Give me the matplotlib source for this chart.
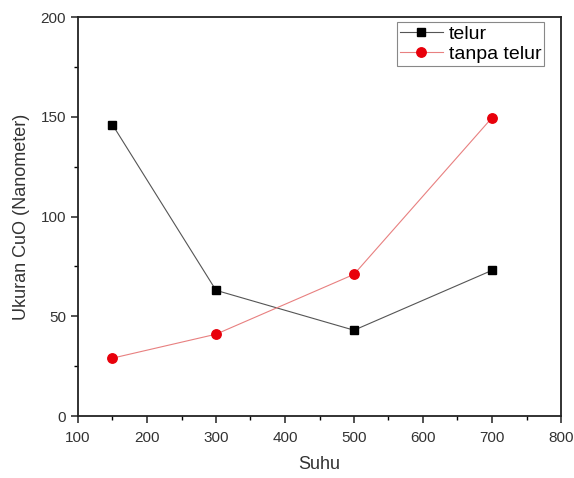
import matplotlib
matplotlib.use('Agg')
import matplotlib.pyplot as plt
from matplotlib.ticker import MultipleLocator

plt.rcParams['font.family'] = ['Liberation Sans', 'DejaVu Sans']

suhu = [150, 300, 500, 700]
telur = [146, 63, 43, 73]
tanpa_telur = [29, 41, 71, 149.5]

fig = plt.figure(figsize=(5.74, 4.78), dpi=100)
ax = fig.add_axes([78 / 574, 62 / 478, 483 / 574, 399 / 478])

ax.plot(suhu, telur, color='#555555', linewidth=0.8, marker='s', markersize=6,
        markerfacecolor='black', markeredgecolor='black', label='telur')
ax.plot(suhu, tanpa_telur, color='#e88080', linewidth=0.8, marker='o', markersize=6.8,
        markerfacecolor='#e8000b', markeredgecolor='#e8000b', label='tanpa telur')

ax.set_xlim(100, 800)
ax.set_ylim(0, 200)
ax.xaxis.set_major_locator(MultipleLocator(100))
ax.xaxis.set_minor_locator(MultipleLocator(50))
ax.yaxis.set_major_locator(MultipleLocator(50))
ax.yaxis.set_minor_locator(MultipleLocator(25))
ax.tick_params(which='major', direction='out', length=5, width=1.2, labelsize=11, colors='#333333')
ax.tick_params(axis='x', which='major', pad=6)
ax.tick_params(which='minor', direction='out', length=3, width=1.0)
for s in ax.spines.values():
    s.set_linewidth(1.3)
    s.set_color('#222222')

ax.set_xlabel('Suhu', fontsize=13, color='#333333', labelpad=8)
ax.set_ylabel('Ukuran CuO (Nanometer)', fontsize=13, color='#333333', labelpad=8)

leg = ax.legend(loc='upper right', bbox_to_anchor=(0.965, 0.987), fontsize=14,
                fancybox=False, edgecolor='#888888', framealpha=1,
                handlelength=2.2, handletextpad=0.3, borderpad=0.15, labelspacing=0.15,
                borderaxespad=0)
leg.get_frame().set_linewidth(0.8)

fig.savefig('out.png', dpi=100)
